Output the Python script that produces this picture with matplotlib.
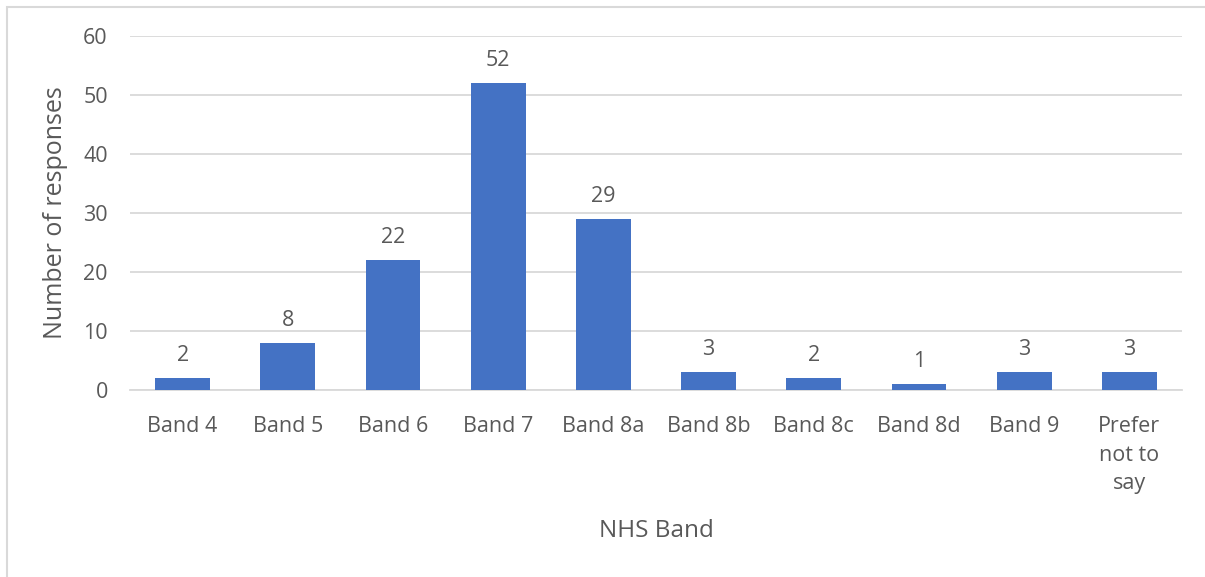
import matplotlib
matplotlib.use("Agg")
import matplotlib.pyplot as plt
from matplotlib.patches import Rectangle

categories = ["Band 4", "Band 5", "Band 6", "Band 7", "Band 8a", "Band 8b",
              "Band 8c", "Band 8d", "Band 9", "Prefer\nnot to\nsay"]
responses = [2, 8, 22, 52, 29, 3, 2, 1, 3, 3]
y_ticks = [0, 10, 20, 30, 40, 50, 60]

plt.rcParams["font.family"] = ["Open Sans", "DejaVu Sans"]
text_color = "#595959"
bar_color = "#4472C4"
grid_color = "#D9D9D9"

fig = plt.figure(figsize=(12.05, 5.77), dpi=100)
ax = fig.add_axes([130 / 1205, 1 - 390 / 577, (1182 - 130) / 1205, (390 - 36) / 577])

x = list(range(len(categories)))
bars = ax.bar(x, responses, width=0.52, color=bar_color, zorder=3)
for xi, v in zip(x, responses):
    ax.annotate(str(v), (xi, v), xytext=(0, 8.5), textcoords="offset points",
                ha="center", va="bottom", fontsize=15.5, color=text_color)

ax.set_xlim(-0.5, len(categories) - 0.5)
ax.set_ylim(0, 60)
ax.set_yticks(y_ticks)
ax.set_xticks(x)
ax.set_xticklabels(categories, linespacing=1.47, va="top")
ax.tick_params(axis="both", length=0, labelsize=15.5, colors=text_color)
ax.tick_params(axis="x", pad=19)
ax.tick_params(axis="y", pad=16)
ax.yaxis.grid(True, color=grid_color, linewidth=1.3, zorder=0)
for s in ["top", "right", "left"]:
    ax.spines[s].set_visible(False)
ax.spines["bottom"].set_color(grid_color)
ax.spines["bottom"].set_linewidth(1.3)

ax.set_xlabel("NHS Band", fontsize=17.5, color=text_color, labelpad=18)
ax.set_ylabel("Number of responses", fontsize=18, color=text_color, labelpad=11)

# light frame around the chart area
fig.patches.append(Rectangle((7 / 1205, -0.1), 1.2, (1 - 7 / 577) + 0.1,
                             transform=fig.transFigure, fill=False,
                             edgecolor="#D9D9D9", linewidth=1.5))

fig.savefig("out.png", dpi=100)
